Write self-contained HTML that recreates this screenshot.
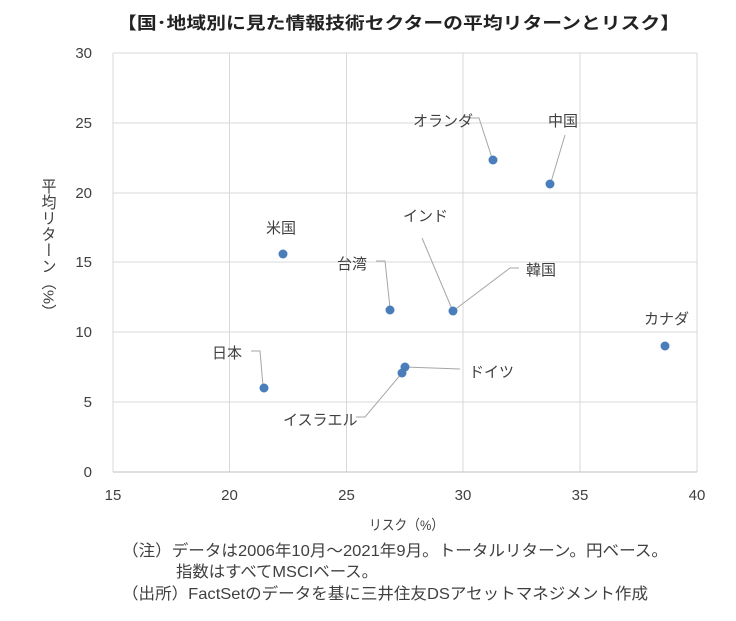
<!DOCTYPE html><html><head><meta charset="utf-8"><style>body{margin:0;background:#fff}svg text{font-family:"Liberation Sans","Noto Sans CJK JP",sans-serif;fill:#404040}</style></head><body>
<svg width="736" height="616" xmlns="http://www.w3.org/2000/svg">
<rect width="736" height="616" fill="#fff"/>
<text x="117" y="29" font-size="17" font-weight="bold" textLength="563" lengthAdjust="spacingAndGlyphs" style="fill:#222">【国･地域別に見た情報技術セクターの平均リターンとリスク】</text>
<g stroke="#d9d9d9" stroke-width="1">
<line x1="113" y1="53" x2="697" y2="53"/><line x1="113" y1="123" x2="697" y2="123"/><line x1="113" y1="193" x2="697" y2="193"/><line x1="113" y1="262" x2="697" y2="262"/><line x1="113" y1="332" x2="697" y2="332"/><line x1="113" y1="402" x2="697" y2="402"/>
<line x1="113" y1="53" x2="113" y2="472"/><line x1="229.5" y1="53" x2="229.5" y2="472"/><line x1="346.5" y1="53" x2="346.5" y2="472"/><line x1="463" y1="53" x2="463" y2="472"/><line x1="580" y1="53" x2="580" y2="472"/><line x1="697" y1="53" x2="697" y2="472"/>
</g>
<line x1="113" y1="472" x2="697" y2="472" stroke="#bfbfbf"/>
<g font-size="15" text-anchor="end">
<text x="92" y="58">30</text><text x="92" y="128">25</text><text x="92" y="198">20</text><text x="92" y="267">15</text><text x="92" y="337">10</text><text x="92" y="407">5</text><text x="92" y="477">0</text></g>
<g font-size="15" text-anchor="middle">
<text x="113" y="500">15</text><text x="229.5" y="500">20</text><text x="346.5" y="500">25</text><text x="463" y="500">30</text><text x="580" y="500">35</text><text x="697" y="500">40</text></g>
<text x="369" y="530" font-size="14" textLength="75" lengthAdjust="spacingAndGlyphs">リスク（%）</text>
<text x="48" y="178" font-size="15" style="writing-mode:vertical-rl;glyph-orientation-vertical:0" textLength="142" lengthAdjust="spacingAndGlyphs">平均リターン（%）</text>
<g stroke="#a6a6a6" fill="none" stroke-width="1">
<polyline points="470,118 479,118 492,158"/><polyline points="565,135 551,182"/><polyline points="376,261 385,261 390,308"/>
<polyline points="422,238 452,309"/><polyline points="453,311 510,268 519,268"/><polyline points="251,351 260,351 263,386"/>
<polyline points="405,367 460,369"/><polyline points="402,373 365,417 356,417"/></g>
<g fill="#4a7ebb">
<circle cx="493" cy="160" r="4.5"/><circle cx="550" cy="184" r="4.5"/><circle cx="283" cy="254" r="4.5"/><circle cx="390" cy="310" r="4.5"/><circle cx="453" cy="311" r="4.5"/><circle cx="264" cy="388" r="4.5"/><circle cx="405" cy="367" r="4.5"/><circle cx="402" cy="373" r="4.5"/><circle cx="665" cy="346" r="4.5"/></g>
<g font-size="15">
<text x="413" y="126">オランダ</text><text x="548" y="126">中国</text><text x="266" y="233">米国</text><text x="403" y="221">インド</text>
<text x="337" y="269">台湾</text><text x="526" y="275">韓国</text><text x="212" y="358">日本</text><text x="469" y="377">ドイツ</text>
<text x="283" y="425">イスラエル</text><text x="644" y="324">カナダ</text></g>
<g font-size="16">
<text x="122" y="556" textLength="546" lengthAdjust="spacingAndGlyphs">（注）データは2006年10月～2021年9月。トータルリターン。円ベース。</text>
<text x="176" y="577" textLength="202" lengthAdjust="spacingAndGlyphs">指数はすべてMSCIベース。</text>
<text x="122" y="599" textLength="526" lengthAdjust="spacingAndGlyphs">（出所）FactSetのデータを基に三井住友DSアセットマネジメント作成</text></g>
</svg></body></html>
